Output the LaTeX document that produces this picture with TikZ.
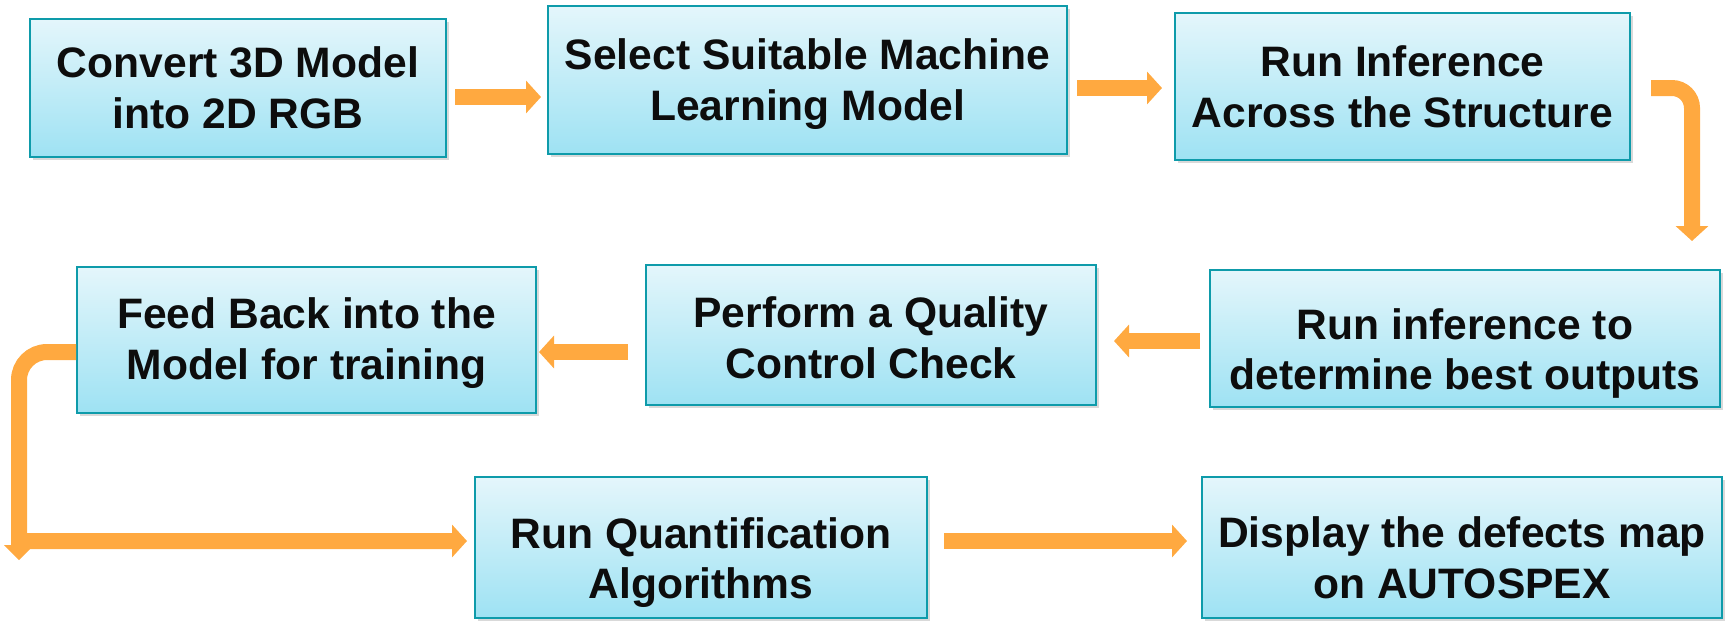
\documentclass[tikz,border=0pt]{standalone}
\usepackage{fontspec}
\setmainfont{Liberation Sans}
\usetikzlibrary{arrows.meta,shadows,calc}
\definecolor{bordc}{HTML}{0E9BAA}
\definecolor{topc}{HTML}{E4F6FB}
\definecolor{botc}{HTML}{9EE2F3}
\definecolor{arrc}{HTML}{FFA940}
\begin{document}
\begin{tikzpicture}[x=0.5pt,y=-0.5pt,
  box/.style={draw=bordc, line width=1pt, top color=topc, bottom color=botc,
    drop shadow={shadow xshift=1.5pt, shadow yshift=-1.5pt, opacity=0.3},
    inner sep=0pt},
  txt/.style={align=center, inner sep=0pt, text=black!95,
    font=\fontsize{21.3}{25.3}\selectfont\bfseries},
  arr/.style={draw=arrc, line width=8pt, -{Triangle[length=7.5pt,width=16pt]}}]
\useasboundingbox (0,0) rectangle (1725,622);
\node[box, minimum width=208pt, minimum height=69pt] (b1) at (238,88) {};
\node[box, minimum width=259.5pt, minimum height=74pt] (b2) at (807.5,80) {};
\node[box, minimum width=227.5pt, minimum height=73.5pt] (b3) at (1402.5,86.5) {};
\node[box, minimum width=255pt, minimum height=68.5pt] (b4) at (1465,338.5) {};
\node[box, minimum width=225pt, minimum height=70pt] (b5) at (871,335) {};
\node[box, minimum width=229.5pt, minimum height=73pt] (b6) at (306.5,340) {};
\node[box, minimum width=226pt, minimum height=70.5pt] (b7) at (701,547.5) {};
\node[box, minimum width=260pt, minimum height=70.5pt] (b8) at (1462,547.5) {};

\node[txt] (t1) at ($(b1)+(0,0)$) {Convert 3D Model\\into 2D RGB};
\node[txt] (t2) at ($(b2)+(0,4)$) {Select Suitable Machine\\Learning Model};
\node[txt] (t3) at ($(b3)+(0,0)$) {Run Inference\\Across the Structure};
\node[txt] (t4) at ($(b4)+(0,15)$) {Run inference to\\determine best outputs};
\node[txt] (t5) at ($(b5)+(0,3)$) {Perform a Quality\\Control Check};
\node[txt] (t6) at ($(b6)+(0,3)$) {Feed Back into the\\Model for training};
\node[txt] (t7) at ($(b7)+(0,15)$) {Run Quantification\\Algorithms};
\node[txt] (t8) at ($(b8)+(0,10)$) {Display the defects map\\on AUTOSPEX};

\draw[arr] ($(b1.east)+(8,9)$) -- ($(b2.west)+(-6,17)$);
\draw[arr] ($(b2.east)+(9,8)$) -- ($(b3.west)+(-12,1.5)$);
\draw[arr, rounded corners=10pt] ($(b3.east)+(20,1.5)$) -| ($(b4.north east)+(-29,-28)$);
\draw[arr] ($(b4.west)+(-9,2.5)$) -- ($(b5.east)+(17,6)$);
\draw[arr] ($(b5.west)+(-17,17)$) -- ($(b6.east)+(2,12)$);
\coordinate (k1) at (19,352);
\coordinate (k2) at (19,541);
\fill[arrc] (4,545) -- (34,545) -- (19,560) -- cycle;
\draw[arr] ($(b6.west)+(0,12)$) [rounded corners=14pt] -- (k1) [sharp corners] -- (k2) -- ($(b7.west)+(-7,-6.5)$);
\draw[arr] ($(b7.east)+(16,-6.5)$) -- ($(b8.west)+(-14,-6.5)$);
\end{tikzpicture}
\end{document}
